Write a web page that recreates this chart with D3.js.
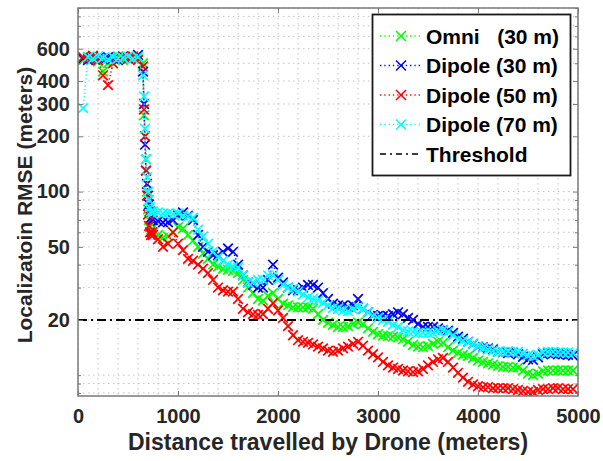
<!DOCTYPE html>
<html>
<head>
<meta charset="utf-8">
<script src="https://cdn.jsdelivr.net/npm/d3@7"></script>
<style>
  html, body { margin: 0; padding: 0; background: #fff; }
  svg { display: block; font-family: "Liberation Sans", Arial, sans-serif; font-weight: bold; }
</style>
</head>
<body>
<svg id="chart" width="603" height="461"></svg>
<script>
// Distance travelled by the drone (m) at each estimate
const distance = [
  50, 100, 150, 200, 250, 300, 350, 400, 450, 500, 550, 600, 650,
  660, 670, 680, 690, 700, 710, 720, 730, 740,
  750, 800, 850, 900, 950, 1000, 1050, 1100, 1150, 1200,
  1250, 1300, 1350, 1400, 1450, 1500, 1550, 1600, 1650, 1700,
  1750, 1800, 1850, 1900, 1950, 2000, 2050, 2100, 2150, 2200,
  2250, 2300, 2350, 2400, 2450, 2500, 2550, 2600, 2650, 2700,
  2750, 2800, 2850, 2900, 2950, 3000, 3050, 3100, 3150, 3200,
  3250, 3300, 3350, 3400, 3450, 3500, 3550, 3600, 3650, 3700,
  3750, 3800, 3850, 3900, 3950, 4000, 4050, 4100, 4150, 4200,
  4250, 4300, 4350, 4400, 4450, 4500, 4550, 4600, 4650, 4700,
  4750, 4800, 4850, 4900, 4950
];

// Localization RMSE (m) for each antenna configuration
const omni30 = [
  520, 540, 530, 510, 450, 500, 530, 545, 520, 535, 540, 525, 500,
  260, 200, 150, 100, 80, 70, 64, 62, 60,
  60, 58, 56, 57, 60, 64, 63, 58, 54, 50,
  46, 43, 40, 39, 38, 37.5, 37, 36, 33, 30,
  28, 26, 25.5, 27, 28, 26, 24.5, 24, 23.5, 23.4,
  23.4, 23.4, 23, 21.5, 20, 19.3, 18.8, 18.3, 18.3, 18.5,
  19, 19.4, 19, 18, 17.2, 16.7, 16.4, 16.3, 16.2, 16,
  15.7, 15.2, 14.6, 14.3, 14.2, 14.4, 14.8, 15.2, 15, 14.2,
  13.6, 13.2, 12.9, 12.7, 12.4, 12, 11.8, 11.6, 11.4, 11.2,
  11.1, 11.1, 11, 11, 10.6, 10.2, 10, 10.2, 10.5, 10.6,
  10.6, 10.6, 10.6, 10.6, 10.6
];

const dipole30 = [
  530, 520, 545, 535, 525, 540, 530, 520, 545, 530, 535, 555, 450,
  300, 180, 130, 110, 95, 85, 78, 72, 70,
  70, 69, 68, 68, 70, 74, 77, 74, 70, 58,
  50, 47, 45, 45, 47, 49, 47, 40, 35, 32,
  31, 30, 30, 33, 40, 34, 32, 30, 29, 29,
  30, 31, 31, 30, 28, 26, 24.5, 24, 24, 23.5,
  24, 26, 23, 22, 21.3, 21, 21, 21, 21.5, 22,
  21.5, 20.5, 20, 19, 18.3, 18.3, 18.3, 18, 17.6, 17.5,
  17, 16.2, 15.8, 15.2, 14.8, 14.3, 14.2, 14, 13.8, 13.4,
  13.3, 13.2, 13.3, 13, 12.6, 12.2, 12.1, 12.5, 13, 13.2,
  13.1, 13, 13, 12.9, 12.8
];

const dipole50 = [
  540, 530, 550, 520, 430, 380, 500, 530, 540, 530, 545, 520, 480,
  280, 200, 130, 95, 75, 65, 60, 58, 60,
  58, 55, 50, 52, 60, 52, 48, 43, 42, 40,
  38, 36, 33, 30, 29, 28.5, 28.5, 26, 23, 22,
  21.5, 21.3, 21.5, 23, 24.7, 22.5, 20.5, 18.5, 16.5, 15.5,
  15.2, 15, 14.7, 14.3, 14, 13.6, 13.4, 13.6, 14, 14.3,
  14.8, 15.2, 14.5, 13.6, 13, 12.5, 11.8, 11.3, 11, 10.8,
  10.6, 10.5, 10.4, 10.5, 10.8, 11.3, 11.8, 12.2, 12.4, 11.8,
  11, 10.3, 9.7, 9.2, 8.9, 8.7, 8.6, 8.6, 8.5, 8.5,
  8.5, 8.5, 8.4, 8.3, 8.2, 8.1, 8.1, 8.3, 8.4, 8.4,
  8.5, 8.5, 8.4, 8.4, 8.4
];

const dipole70 = [
  285, 540, 530, 545, 535, 525, 540, 530, 535, 545, 530, 540, 430,
  330, 220, 150, 120, 100, 90, 82, 78, 76,
  78, 77, 76, 76, 75, 76, 74, 73, 72, 62,
  57, 52, 47, 44, 42, 40, 39, 38.5, 35, 32,
  32, 33, 33, 35, 35, 33, 31, 30, 29.5, 28.5,
  27.5, 26.5, 26, 25.5, 24.8, 24, 23.2, 23, 22.5, 22.3,
  22.8, 23.5, 23, 22, 21, 20.5, 20, 19.5, 18.8, 18.3,
  17.6, 17.3, 17.2, 17, 17, 17, 17, 17.4, 17.6, 17.2,
  16.5, 15.8, 15.4, 15.2, 14.8, 14.4, 14.1, 13.8, 13.6, 13.4,
  13.4, 13.5, 13.4, 13.4, 13.1, 12.8, 12.7, 12.9, 13.3, 13.4,
  13.4, 13.3, 13.3, 13.3, 13.2
];

const seriesLabels = ["Omni   (30 m)", "Dipole (30 m)", "Dipole (50 m)", "Dipole (70 m)"];
const seriesColors = ["#00ff00", "#0000ff", "#ff0000", "#00ffff"];
const seriesValues = [omni30, dipole30, dipole50, dipole70];

const threshold = 20;
const thresholdLabel = "Threshold";

const xTicks = [0, 1000, 2000, 3000, 4000, 5000];
const yTicks = [20, 50, 100, 200, 300, 400, 600];

const xTitle = "Distance travelled by Drone (meters)";
const yTitle = "Localizatoin RMSE (meters)";

// ---- layout ----
const plot = { left: 78, right: 578, top: 8, bottom: 396 };
const svg = d3.select("#chart");

const x = d3.scaleLinear().domain([0, 5000]).range([plot.left, plot.right]);
const y = d3.scaleLog().domain([7.7, 1000]).range([plot.bottom, plot.top]);

const textColor = "#262626";
const axisColor = "#7a7a7a";
const gridColor = "#c4c4c4";

// minor grid positions: every 200 m, and 1..9 x 10^k on the log axis
const xGrid = d3.range(0, 5001, 200);
const yGrid = [];
[1, 10, 100].forEach(dec => {
  for (let m = 1; m <= 9; m++) {
    const v = m * dec;
    if (v >= 7.7 && v <= 1000) yGrid.push(v);
  }
});
yGrid.push(1000);

const grid = svg.append("g");
grid.selectAll("line.gx").data(xGrid).join("line")
  .attr("x1", d => x(d)).attr("x2", d => x(d))
  .attr("y1", plot.top).attr("y2", plot.bottom)
  .attr("stroke", gridColor).attr("stroke-width", 1)
  .attr("stroke-dasharray", "1.5,3.5");
grid.selectAll("line.gy").data(yGrid).join("line")
  .attr("x1", plot.left).attr("x2", plot.right)
  .attr("y1", d => y(d)).attr("y2", d => y(d))
  .attr("stroke", gridColor).attr("stroke-width", 1)
  .attr("stroke-dasharray", "1.5,3.5");

// ---- data ----
svg.append("defs").append("clipPath").attr("id", "plotClip")
  .append("rect")
  .attr("x", plot.left).attr("y", plot.top)
  .attr("width", plot.right - plot.left).attr("height", plot.bottom - plot.top);

const xMark = s => `M${-s},${-s}L${s},${s}M${-s},${s}L${s},${-s}`;

const dataG = svg.append("g").attr("clip-path", "url(#plotClip)");
const line = d3.line().x(d => x(d[0])).y(d => y(d[1]));

seriesValues.forEach((vals, i) => {
  const pts = distance.map((d, j) => [d, vals[j]]);
  const g = dataG.append("g");
  g.append("path")
    .attr("d", line(pts))
    .attr("fill", "none")
    .attr("stroke", seriesColors[i])
    .attr("stroke-width", 1.5)
    .attr("stroke-dasharray", "1.2,2.4");
  g.selectAll("path.mk").data(pts).join("path")
    .attr("class", "mk")
    .attr("transform", d => `translate(${x(d[0])},${y(d[1])})`)
    .attr("d", xMark(4.8))
    .attr("fill", "none")
    .attr("stroke", seriesColors[i])
    .attr("stroke-width", 1.7);
});

// threshold
svg.append("line")
  .attr("x1", x(0)).attr("x2", x(5000))
  .attr("y1", y(threshold)).attr("y2", y(threshold))
  .attr("stroke", "#000").attr("stroke-width", 2)
  .attr("stroke-dasharray", "9,4,2,4");

// ---- axes ----
const yMinor = yGrid.filter(v => !yTicks.includes(v));

function styleAxis(g) {
  g.select(".domain").remove();
  g.selectAll(".tick line").attr("stroke", axisColor).attr("stroke-width", 1);
  g.selectAll(".tick text")
    .attr("fill", textColor)
    .style("font-size", "20px")
    .style("font-weight", "bold")
    .style("font-family", "'Liberation Sans', Arial, sans-serif");
}

svg.append("g").attr("transform", `translate(0,${plot.bottom})`)
  .call(d3.axisBottom(x).tickValues(xTicks).tickFormat(d3.format("d")).tickSize(-5).tickPadding(13))
  .call(styleAxis);
svg.append("g").attr("transform", `translate(0,${plot.top})`)
  .call(d3.axisTop(x).tickValues(xTicks).tickFormat("").tickSize(-5))
  .call(styleAxis);
svg.append("g").attr("transform", `translate(${plot.left},0)`)
  .call(d3.axisLeft(y).tickValues(yTicks).tickFormat(d3.format("d")).tickSize(-5).tickPadding(8))
  .call(styleAxis);
svg.append("g").attr("transform", `translate(${plot.left},0)`)
  .call(d3.axisLeft(y).tickValues(yMinor).tickFormat("").tickSize(-3))
  .call(styleAxis);
svg.append("g").attr("transform", `translate(${plot.right},0)`)
  .call(d3.axisRight(y).tickValues(yTicks).tickFormat("").tickSize(-5))
  .call(styleAxis);
svg.append("g").attr("transform", `translate(${plot.right},0)`)
  .call(d3.axisRight(y).tickValues(yMinor).tickFormat("").tickSize(-3))
  .call(styleAxis);

// frame
svg.append("rect")
  .attr("x", plot.left).attr("y", plot.top)
  .attr("width", plot.right - plot.left).attr("height", plot.bottom - plot.top)
  .attr("fill", "none").attr("stroke", axisColor).attr("stroke-width", 1.5);

// axis titles
svg.append("text")
  .attr("x", (plot.left + plot.right) / 2).attr("y", 450)
  .attr("text-anchor", "middle")
  .attr("fill", textColor)
  .style("font-size", "23px")
  .text(xTitle);
svg.append("text")
  .attr("transform", `translate(32,205) rotate(-90)`)
  .attr("text-anchor", "middle")
  .attr("fill", textColor)
  .style("font-size", "21px")
  .text(yTitle);

// ---- legend ----
const lg = svg.append("g");
lg.append("rect")
  .attr("x", 372.5).attr("y", 14.5).attr("width", 198).attr("height", 161)
  .attr("fill", "#fff").attr("stroke", "#1a1a1a").attr("stroke-width", 1.8);

const rowY = i => 36 + i * 29.5;
seriesLabels.forEach((lab, i) => {
  const ry = rowY(i);
  lg.append("line")
    .attr("x1", 380).attr("x2", 420).attr("y1", ry).attr("y2", ry)
    .attr("stroke", seriesColors[i]).attr("stroke-width", 1.3)
    .attr("stroke-dasharray", "1.3,3");
  lg.append("path")
    .attr("transform", `translate(401,${ry})`)
    .attr("d", xMark(5))
    .attr("fill", "none").attr("stroke", seriesColors[i]).attr("stroke-width", 1.5);
  lg.append("text")
    .attr("x", 426).attr("y", ry + 7.5)
    .attr("fill", "#000")
    .style("font-size", "21px")
    .style("white-space", "pre")
    .text(lab);
});
const ty = rowY(4);
lg.append("line")
  .attr("x1", 380).attr("x2", 420).attr("y1", ty).attr("y2", ty)
  .attr("stroke", "#000").attr("stroke-width", 1.5)
  .attr("stroke-dasharray", "6,4,2,4");
lg.append("text")
  .attr("x", 426).attr("y", ty + 7.5)
  .attr("fill", "#000")
  .style("font-size", "21px")
  .text(thresholdLabel);
</script>
</body>
</html>
